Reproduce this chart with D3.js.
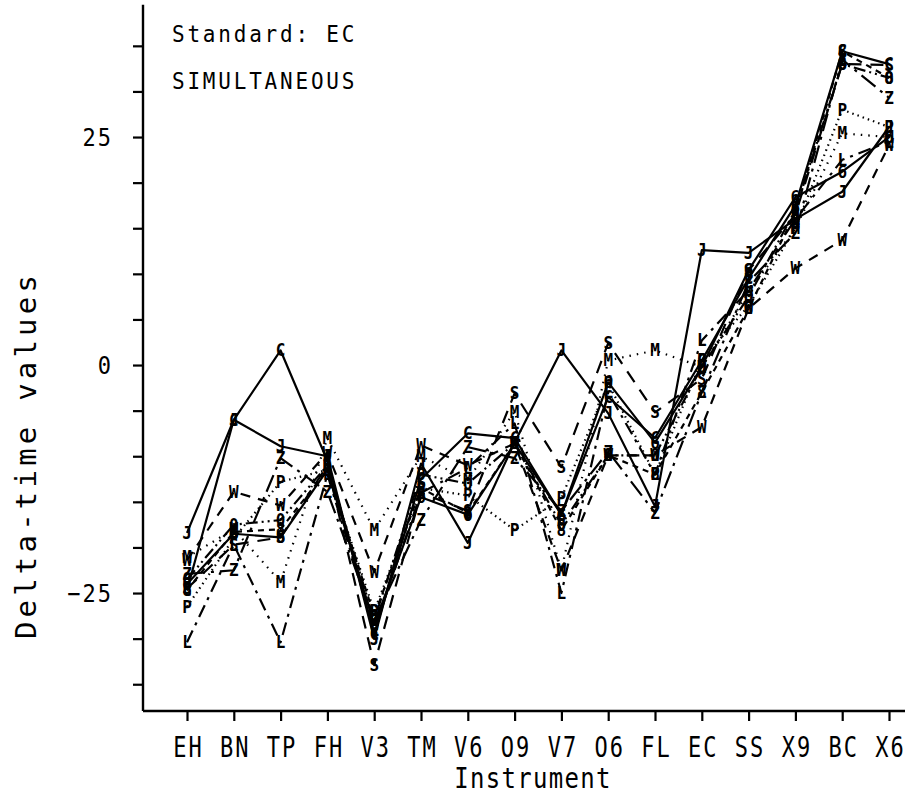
<!DOCTYPE html>
<html>
<head>
<meta charset="utf-8">
<script src="https://cdn.jsdelivr.net/npm/d3@7/dist/d3.min.js"></script>
<style>
  html, body { margin: 0; padding: 0; background: #fff; }
  svg { display: block; }
  text { font-family: "DejaVu Sans Mono", monospace; fill: #000; }
</style>
</head>
<body>
<svg id="chart" width="905" height="797"></svg>
<script>
// Instruments along the x axis
const categories = ["EH","BN","TP","FH","V3","TM","V6","O9","V7","O6","FL","EC","SS","X9","BC","X6"];

// Delta-time values per series (one letter symbol per series)
const seriesC = [-24.7, -6.0, 1.6, -10.5, -29.5, -12.5, -7.5, -8.0, -16.4, -3.5, -8.0, 0.5, 9.5, 17.5, 34.4, 33.0];
const seriesJ = [-18.4, -6.0, -8.9, -10.0, -30.0, -10.8, -19.5, -8.5, 1.6, -5.3, -15.5, 12.6, 12.3, 16.0, 19.0, 26.1];
const series6 = [-24.0, -18.5, -18.9, -11.5, -28.5, -14.5, -16.4, -8.6, -16.4, -1.9, -8.5, -0.2, 10.4, 18.4, 21.2, 25.0];
const seriesL = [-30.4, -19.7, -30.4, -12.0, -29.0, -14.0, -11.3, -6.4, -25.0, -3.0, -12.0, 2.7, 8.2, 16.0, 22.5, 24.5];
const seriesZ = [-22.9, -22.5, -10.2, -13.9, -28.0, -17.0, -9.0, -10.2, -16.0, -9.5, -16.2, -3.0, 9.1, 14.5, 33.5, 29.3];
const seriesM = [-21.1, -18.0, -23.8, -8.0, -18.1, -10.0, -12.6, -5.1, -22.5, 0.5, 1.6, -0.2, 8.0, 15.0, 25.4, 25.0];
const seriesP = [-26.5, -19.0, -12.8, -11.5, -27.0, -13.5, -14.3, -18.1, -14.6, -2.0, -12.0, 0.5, 6.5, 15.0, 28.0, 26.1];
const seriesS = [-24.5, -19.7, -18.9, -11.0, -32.9, -14.0, -16.0, -3.1, -11.2, 2.4, -5.2, -1.5, 10.4, 16.5, 33.0, 32.9];
const seriesW = [-21.4, -13.9, -15.4, -9.6, -22.7, -8.8, -11.0, -8.6, -22.5, -9.9, -9.9, -6.8, 6.2, 10.6, 13.7, 24.1];
const series8 = [-24.7, -18.3, -18.0, -11.5, -27.5, -13.5, -16.2, -8.6, -18.1, -9.9, -12.0, -3.0, 6.2, 16.7, 34.4, 31.5];
const series0 = [-23.5, -17.5, -17.0, -11.0, -28.0, -12.0, -13.0, -8.6, -17.5, -9.9, -9.9, -0.2, 7.5, 17.0, 33.0, 31.5];

// Y axis ticks (every 5) and the ones that carry a label
const yTicks = [-35, -30, -25, -20, -15, -10, -5, 0, 5, 10, 15, 20, 25, 30, 35];
const yLabelled = [-25, 0, 25];

const series = [
  { symbol: "C", values: seriesC, dash: null },
  { symbol: "J", values: seriesJ, dash: null },
  { symbol: "6", values: series6, dash: null },
  { symbol: "L", values: seriesL, dash: "13,6,3,6" },
  { symbol: "Z", values: seriesZ, dash: "18,6,3,6" },
  { symbol: "M", values: seriesM, dash: "1.5,6" },
  { symbol: "P", values: seriesP, dash: "1.5,4" },
  { symbol: "S", values: seriesS, dash: "13,9" },
  { symbol: "W", values: seriesW, dash: "10,8" },
  { symbol: "8", values: series8, dash: "6,5" },
  { symbol: "0", values: series0, dash: "12,4,2,4,2,4" }
];

const svg = d3.select("#chart");

const x = d3.scalePoint().domain(categories).range([187, 889]);
const y = d3.scaleLinear().domain([-38, 39.5]).range([711.6, 4.8]);

const axisLeftX = 143, axisBottomY = 711;

// Lines
const line = d3.line()
  .x((d, i) => x(categories[i]))
  .y(d => y(d));

const g = svg.append("g");
series.forEach(s => {
  g.append("path")
    .datum(s.values)
    .attr("d", line)
    .attr("fill", "none")
    .attr("stroke", "#000")
    .attr("stroke-width", 2.2)
    .attr("stroke-dasharray", s.dash)
    .attr("stroke-linejoin", "round");
});

// Point symbols: plotter-style letters, a little taller than wide
series.forEach(s => {
  g.selectAll(null)
    .data(s.values)
    .enter().append("text")
    .attr("transform", (d, i) => `translate(${x(categories[i])},${y(d) + 6}) scale(1,1.12)`)
    .attr("text-anchor", "middle")
    .attr("font-size", 16)
    .attr("font-weight", "bold")
    .text(s.symbol);
});

// Y axis
const yAxis = d3.axisLeft(y)
  .tickValues(yTicks)
  .tickSize(10)
  .tickFormat(d => yLabelled.includes(d) ? d3.format("d")(d) : "");
const yg = svg.append("g").attr("transform", `translate(${axisLeftX},0)`).call(yAxis);
yg.select(".domain").attr("d", `M-0,${y(39.5)}V${axisBottomY}`).attr("stroke-width", 2.4);
yg.selectAll(".tick line").attr("stroke-width", 2.2);
yg.selectAll(".tick text")
  .attr("x", null).attr("dy", null).attr("y", null)
  .attr("transform", "translate(-30,8.5) scale(1,1.15)")
  .attr("text-anchor", "end")
  .attr("font-size", 22)
  .attr("letter-spacing", 2)
  .attr("font-family", "DejaVu Sans Mono");

// X axis
const xAxis = d3.axisBottom(x).tickSize(10);
const xg = svg.append("g").attr("transform", `translate(0,${axisBottomY})`).call(xAxis);
xg.select(".domain").attr("d", `M${axisLeftX},0H905`).attr("stroke-width", 2.4);
xg.selectAll(".tick line").attr("stroke-width", 2.2);
xg.selectAll(".tick text")
  .attr("y", null).attr("dy", null)
  .attr("transform", "translate(1,46) scale(1,1.25)")
  .attr("font-size", 22)
  .attr("letter-spacing", 2)
  .attr("font-family", "DejaVu Sans Mono");

// Axis titles
svg.append("text")
  .attr("transform", "translate(533,788) scale(1,1.2)")
  .attr("text-anchor", "middle")
  .attr("font-size", 24)
  .attr("letter-spacing", 1.3)
  .text("Instrument");

svg.append("text")
  .attr("transform", "translate(36,455) rotate(-90)")
  .attr("text-anchor", "middle")
  .attr("font-size", 29)
  .attr("letter-spacing", 4.2)
  .text("Delta-time values");

// Header notes inside the plot
svg.append("text")
  .attr("transform", "translate(172,42) scale(1,1.1)")
  .attr("font-size", 21)
  .attr("letter-spacing", 2.8)
  .text("Standard: EC");

svg.append("text")
  .attr("transform", "translate(172,89) scale(1,1.1)")
  .attr("font-size", 21)
  .attr("letter-spacing", 2.8)
  .text("SIMULTANEOUS");
</script>
</body>
</html>
